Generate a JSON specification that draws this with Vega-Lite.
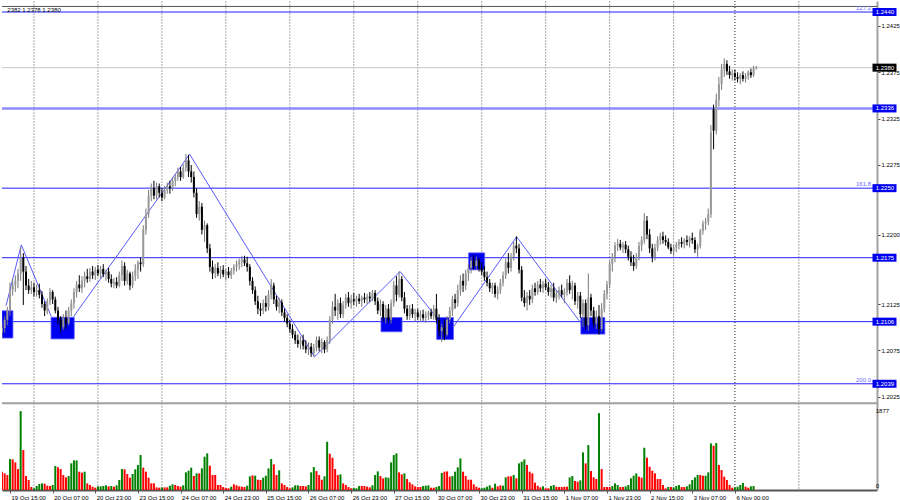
{
"$schema":"https://vega.github.io/schema/vega-lite/v6.json",
"width":900,"height":500,
"autosize":{"type":"fit","contains":"padding"},
"padding":0,
"background":"white",
"config":{"view":{"stroke":null},"text":{"font":"Liberation Sans"}},
"datasets":{
"bars":[
{"i":-3,"o":1.2095,"h":1.2104,"l":1.2088,"c":1.2099,"v":435,"vd":"r"},
{"i":-2,"o":1.2099,"h":1.2112,"l":1.2094,"c":1.2108,"v":396,"vd":"r"},
{"i":-1,"o":1.2108,"h":1.2122,"l":1.2102,"c":1.2118,"v":356,"vd":"r"},
{"i":0,"o":1.2118,"h":1.2148,"l":1.2112,"c":1.2140,"v":737,"vd":"g"},
{"i":1,"o":1.2140,"h":1.2152,"l":1.2134,"c":1.2145,"v":729,"vd":"r"},
{"i":2,"o":1.2145,"h":1.2156,"l":1.2138,"c":1.2150,"v":657,"vd":"r"},
{"i":3,"o":1.2150,"h":1.2163,"l":1.2142,"c":1.2158,"v":499,"vd":"r"},
{"i":4,"o":1.2158,"h":1.2186,"l":1.2150,"c":1.2175,"v":1877,"vd":"g"},
{"i":5,"o":1.2175,"h":1.2180,"l":1.2124,"c":1.2160,"v":950,"vd":"r"},
{"i":6,"o":1.2160,"h":1.2166,"l":1.2140,"c":1.2145,"v":333,"vd":"r"},
{"i":7,"o":1.2145,"h":1.2152,"l":1.2136,"c":1.2140,"v":238,"vd":"r"},
{"i":8,"o":1.2140,"h":1.2150,"l":1.2136,"c":1.2143,"v":71,"vd":"r"},
{"i":9,"o":1.2143,"h":1.2148,"l":1.2133,"c":1.2138,"v":40,"vd":"g"},
{"i":10,"o":1.2138,"h":1.2146,"l":1.2133,"c":1.2140,"v":95,"vd":"g"},
{"i":11,"o":1.2140,"h":1.2147,"l":1.2131,"c":1.2135,"v":143,"vd":"g"},
{"i":12,"o":1.2135,"h":1.2139,"l":1.2121,"c":1.2125,"v":158,"vd":"g"},
{"i":13,"o":1.2125,"h":1.2128,"l":1.2112,"c":1.2118,"v":150,"vd":"r"},
{"i":14,"o":1.2118,"h":1.2131,"l":1.2114,"c":1.2128,"v":103,"vd":"r"},
{"i":15,"o":1.2128,"h":1.2142,"l":1.2124,"c":1.2138,"v":95,"vd":"r"},
{"i":16,"o":1.2138,"h":1.2140,"l":1.2125,"c":1.2130,"v":119,"vd":"g"},
{"i":17,"o":1.2130,"h":1.2133,"l":1.2115,"c":1.2118,"v":570,"vd":"g"},
{"i":18,"o":1.2118,"h":1.2122,"l":1.2103,"c":1.2108,"v":539,"vd":"r"},
{"i":19,"o":1.2108,"h":1.2112,"l":1.2094,"c":1.2100,"v":499,"vd":"r"},
{"i":20,"o":1.2100,"h":1.2114,"l":1.2097,"c":1.2110,"v":356,"vd":"r"},
{"i":21,"o":1.2110,"h":1.2118,"l":1.2098,"c":1.2104,"v":301,"vd":"r"},
{"i":22,"o":1.2104,"h":1.2122,"l":1.2102,"c":1.2118,"v":333,"vd":"g"},
{"i":23,"o":1.2118,"h":1.2130,"l":1.2112,"c":1.2126,"v":634,"vd":"g"},
{"i":24,"o":1.2126,"h":1.2142,"l":1.2120,"c":1.2138,"v":705,"vd":"g"},
{"i":25,"o":1.2138,"h":1.2150,"l":1.2132,"c":1.2146,"v":705,"vd":"g"},
{"i":26,"o":1.2146,"h":1.2156,"l":1.2138,"c":1.2142,"v":436,"vd":"r"},
{"i":27,"o":1.2142,"h":1.2155,"l":1.2137,"c":1.2150,"v":412,"vd":"r"},
{"i":28,"o":1.2150,"h":1.2160,"l":1.2143,"c":1.2155,"v":436,"vd":"g"},
{"i":29,"o":1.2155,"h":1.2163,"l":1.2148,"c":1.2152,"v":158,"vd":"r"},
{"i":30,"o":1.2152,"h":1.2164,"l":1.2149,"c":1.2160,"v":119,"vd":"r"},
{"i":31,"o":1.2160,"h":1.2166,"l":1.2152,"c":1.2156,"v":79,"vd":"r"},
{"i":32,"o":1.2156,"h":1.2165,"l":1.2151,"c":1.2162,"v":55,"vd":"r"},
{"i":33,"o":1.2162,"h":1.2167,"l":1.2155,"c":1.2158,"v":87,"vd":"g"},
{"i":34,"o":1.2158,"h":1.2166,"l":1.2153,"c":1.2163,"v":87,"vd":"g"},
{"i":35,"o":1.2163,"h":1.2168,"l":1.2154,"c":1.2157,"v":95,"vd":"g"},
{"i":36,"o":1.2157,"h":1.2162,"l":1.2150,"c":1.2160,"v":111,"vd":"g"},
{"i":37,"o":1.2160,"h":1.2164,"l":1.2148,"c":1.2152,"v":87,"vd":"r"},
{"i":38,"o":1.2152,"h":1.2157,"l":1.2143,"c":1.2147,"v":95,"vd":"g"},
{"i":39,"o":1.2147,"h":1.2153,"l":1.2142,"c":1.2149,"v":79,"vd":"r"},
{"i":40,"o":1.2149,"h":1.2154,"l":1.2142,"c":1.2145,"v":111,"vd":"g"},
{"i":41,"o":1.2145,"h":1.2160,"l":1.2143,"c":1.2156,"v":238,"vd":"g"},
{"i":42,"o":1.2156,"h":1.2172,"l":1.2150,"c":1.2166,"v":499,"vd":"g"},
{"i":43,"o":1.2166,"h":1.2170,"l":1.2145,"c":1.2150,"v":491,"vd":"r"},
{"i":44,"o":1.2150,"h":1.2162,"l":1.2146,"c":1.2158,"v":380,"vd":"r"},
{"i":45,"o":1.2158,"h":1.2160,"l":1.2140,"c":1.2145,"v":293,"vd":"r"},
{"i":46,"o":1.2145,"h":1.2160,"l":1.2142,"c":1.2156,"v":380,"vd":"g"},
{"i":47,"o":1.2156,"h":1.2168,"l":1.2150,"c":1.2162,"v":491,"vd":"g"},
{"i":48,"o":1.2162,"h":1.2172,"l":1.2152,"c":1.2170,"v":594,"vd":"g"},
{"i":49,"o":1.2170,"h":1.2175,"l":1.2160,"c":1.2168,"v":832,"vd":"g"},
{"i":50,"o":1.2168,"h":1.2210,"l":1.2165,"c":1.2205,"v":531,"vd":"r"},
{"i":51,"o":1.2205,"h":1.2228,"l":1.2200,"c":1.2222,"v":436,"vd":"r"},
{"i":52,"o":1.2222,"h":1.2248,"l":1.2218,"c":1.2242,"v":293,"vd":"r"},
{"i":53,"o":1.2242,"h":1.2255,"l":1.2236,"c":1.2250,"v":158,"vd":"r"},
{"i":54,"o":1.2250,"h":1.2258,"l":1.2238,"c":1.2242,"v":158,"vd":"r"},
{"i":55,"o":1.2242,"h":1.2256,"l":1.2238,"c":1.2252,"v":63,"vd":"r"},
{"i":56,"o":1.2252,"h":1.2255,"l":1.2240,"c":1.2245,"v":55,"vd":"r"},
{"i":57,"o":1.2245,"h":1.2250,"l":1.2236,"c":1.2240,"v":63,"vd":"g"},
{"i":58,"o":1.2240,"h":1.2252,"l":1.2238,"c":1.2248,"v":63,"vd":"r"},
{"i":59,"o":1.2248,"h":1.2256,"l":1.2244,"c":1.2252,"v":63,"vd":"r"},
{"i":60,"o":1.2252,"h":1.2258,"l":1.2244,"c":1.2250,"v":103,"vd":"g"},
{"i":61,"o":1.2250,"h":1.2262,"l":1.2247,"c":1.2258,"v":135,"vd":"g"},
{"i":62,"o":1.2258,"h":1.2265,"l":1.2252,"c":1.2262,"v":119,"vd":"r"},
{"i":63,"o":1.2262,"h":1.2272,"l":1.2258,"c":1.2268,"v":95,"vd":"r"},
{"i":64,"o":1.2268,"h":1.2273,"l":1.2258,"c":1.2262,"v":79,"vd":"r"},
{"i":65,"o":1.2262,"h":1.2276,"l":1.2260,"c":1.2272,"v":111,"vd":"g"},
{"i":66,"o":1.2272,"h":1.2287,"l":1.2268,"c":1.2280,"v":420,"vd":"g"},
{"i":67,"o":1.2280,"h":1.2286,"l":1.2262,"c":1.2268,"v":459,"vd":"g"},
{"i":68,"o":1.2268,"h":1.2275,"l":1.2256,"c":1.2262,"v":531,"vd":"g"},
{"i":69,"o":1.2262,"h":1.2268,"l":1.2240,"c":1.2245,"v":333,"vd":"r"},
{"i":70,"o":1.2245,"h":1.2250,"l":1.2218,"c":1.2222,"v":396,"vd":"g"},
{"i":71,"o":1.2222,"h":1.2236,"l":1.2215,"c":1.2230,"v":396,"vd":"r"},
{"i":72,"o":1.2230,"h":1.2234,"l":1.2200,"c":1.2205,"v":515,"vd":"g"},
{"i":73,"o":1.2205,"h":1.2215,"l":1.2192,"c":1.2210,"v":792,"vd":"g"},
{"i":74,"o":1.2210,"h":1.2212,"l":1.2180,"c":1.2185,"v":871,"vd":"g"},
{"i":75,"o":1.2185,"h":1.2190,"l":1.2160,"c":1.2165,"v":578,"vd":"r"},
{"i":76,"o":1.2165,"h":1.2172,"l":1.2152,"c":1.2158,"v":356,"vd":"r"},
{"i":77,"o":1.2158,"h":1.2168,"l":1.2153,"c":1.2164,"v":356,"vd":"r"},
{"i":78,"o":1.2164,"h":1.2170,"l":1.2155,"c":1.2158,"v":119,"vd":"r"},
{"i":79,"o":1.2158,"h":1.2166,"l":1.2152,"c":1.2162,"v":119,"vd":"r"},
{"i":80,"o":1.2162,"h":1.2167,"l":1.2154,"c":1.2157,"v":71,"vd":"r"},
{"i":81,"o":1.2157,"h":1.2163,"l":1.2151,"c":1.2160,"v":48,"vd":"r"},
{"i":82,"o":1.2160,"h":1.2165,"l":1.2153,"c":1.2156,"v":40,"vd":"r"},
{"i":83,"o":1.2156,"h":1.2164,"l":1.2152,"c":1.2161,"v":79,"vd":"g"},
{"i":84,"o":1.2161,"h":1.2168,"l":1.2157,"c":1.2165,"v":135,"vd":"r"},
{"i":85,"o":1.2165,"h":1.2172,"l":1.2160,"c":1.2168,"v":111,"vd":"r"},
{"i":86,"o":1.2168,"h":1.2174,"l":1.2162,"c":1.2171,"v":87,"vd":"r"},
{"i":87,"o":1.2171,"h":1.2177,"l":1.2165,"c":1.2173,"v":79,"vd":"r"},
{"i":88,"o":1.2173,"h":1.2177,"l":1.2166,"c":1.2169,"v":71,"vd":"r"},
{"i":89,"o":1.2169,"h":1.2176,"l":1.2160,"c":1.2165,"v":103,"vd":"g"},
{"i":90,"o":1.2165,"h":1.2168,"l":1.2145,"c":1.2150,"v":325,"vd":"g"},
{"i":91,"o":1.2150,"h":1.2154,"l":1.2136,"c":1.2140,"v":348,"vd":"r"},
{"i":92,"o":1.2140,"h":1.2144,"l":1.2124,"c":1.2128,"v":340,"vd":"g"},
{"i":93,"o":1.2128,"h":1.2134,"l":1.2114,"c":1.2120,"v":245,"vd":"r"},
{"i":94,"o":1.2120,"h":1.2126,"l":1.2112,"c":1.2118,"v":238,"vd":"r"},
{"i":95,"o":1.2118,"h":1.2130,"l":1.2114,"c":1.2126,"v":293,"vd":"g"},
{"i":96,"o":1.2126,"h":1.2134,"l":1.2117,"c":1.2122,"v":340,"vd":"g"},
{"i":97,"o":1.2122,"h":1.2140,"l":1.2118,"c":1.2135,"v":515,"vd":"g"},
{"i":98,"o":1.2135,"h":1.2152,"l":1.2130,"c":1.2145,"v":737,"vd":"g"},
{"i":99,"o":1.2145,"h":1.2148,"l":1.2125,"c":1.2130,"v":610,"vd":"r"},
{"i":100,"o":1.2130,"h":1.2134,"l":1.2118,"c":1.2122,"v":356,"vd":"r"},
{"i":101,"o":1.2122,"h":1.2132,"l":1.2115,"c":1.2127,"v":467,"vd":"g"},
{"i":102,"o":1.2127,"h":1.2130,"l":1.2112,"c":1.2116,"v":158,"vd":"r"},
{"i":103,"o":1.2116,"h":1.2120,"l":1.2106,"c":1.2110,"v":119,"vd":"r"},
{"i":104,"o":1.2110,"h":1.2114,"l":1.2100,"c":1.2104,"v":71,"vd":"r"},
{"i":105,"o":1.2104,"h":1.2108,"l":1.2094,"c":1.2098,"v":40,"vd":"r"},
{"i":106,"o":1.2098,"h":1.2103,"l":1.2088,"c":1.2092,"v":63,"vd":"g"},
{"i":107,"o":1.2092,"h":1.2096,"l":1.2082,"c":1.2086,"v":111,"vd":"g"},
{"i":108,"o":1.2086,"h":1.2092,"l":1.2078,"c":1.2082,"v":111,"vd":"g"},
{"i":109,"o":1.2082,"h":1.2090,"l":1.2076,"c":1.2086,"v":95,"vd":"r"},
{"i":110,"o":1.2086,"h":1.2092,"l":1.2076,"c":1.2080,"v":95,"vd":"r"},
{"i":111,"o":1.2080,"h":1.2086,"l":1.2072,"c":1.2076,"v":87,"vd":"r"},
{"i":112,"o":1.2076,"h":1.2084,"l":1.2070,"c":1.2079,"v":119,"vd":"g"},
{"i":113,"o":1.2079,"h":1.2083,"l":1.2068,"c":1.2072,"v":420,"vd":"g"},
{"i":114,"o":1.2072,"h":1.2082,"l":1.2068,"c":1.2078,"v":546,"vd":"g"},
{"i":115,"o":1.2078,"h":1.2090,"l":1.2074,"c":1.2086,"v":451,"vd":"r"},
{"i":116,"o":1.2086,"h":1.2090,"l":1.2074,"c":1.2078,"v":356,"vd":"r"},
{"i":117,"o":1.2078,"h":1.2088,"l":1.2072,"c":1.2084,"v":245,"vd":"r"},
{"i":118,"o":1.2084,"h":1.2086,"l":1.2072,"c":1.2076,"v":325,"vd":"g"},
{"i":119,"o":1.2076,"h":1.2090,"l":1.2073,"c":1.2086,"v":1148,"vd":"g"},
{"i":120,"o":1.2086,"h":1.2112,"l":1.2082,"c":1.2108,"v":863,"vd":"r"},
{"i":121,"o":1.2108,"h":1.2128,"l":1.2104,"c":1.2122,"v":768,"vd":"r"},
{"i":122,"o":1.2122,"h":1.2136,"l":1.2112,"c":1.2118,"v":499,"vd":"r"},
{"i":123,"o":1.2118,"h":1.2130,"l":1.2108,"c":1.2126,"v":356,"vd":"r"},
{"i":124,"o":1.2126,"h":1.2132,"l":1.2110,"c":1.2114,"v":372,"vd":"g"},
{"i":125,"o":1.2114,"h":1.2128,"l":1.2110,"c":1.2124,"v":158,"vd":"r"},
{"i":126,"o":1.2124,"h":1.2136,"l":1.2120,"c":1.2132,"v":119,"vd":"r"},
{"i":127,"o":1.2132,"h":1.2138,"l":1.2122,"c":1.2126,"v":71,"vd":"r"},
{"i":128,"o":1.2126,"h":1.2135,"l":1.2120,"c":1.2130,"v":40,"vd":"r"},
{"i":129,"o":1.2130,"h":1.2137,"l":1.2124,"c":1.2128,"v":48,"vd":"g"},
{"i":130,"o":1.2128,"h":1.2134,"l":1.2122,"c":1.2131,"v":40,"vd":"g"},
{"i":131,"o":1.2131,"h":1.2136,"l":1.2125,"c":1.2128,"v":95,"vd":"g"},
{"i":132,"o":1.2128,"h":1.2134,"l":1.2122,"c":1.2132,"v":95,"vd":"r"},
{"i":133,"o":1.2132,"h":1.2137,"l":1.2126,"c":1.2130,"v":95,"vd":"r"},
{"i":134,"o":1.2130,"h":1.2136,"l":1.2125,"c":1.2133,"v":79,"vd":"r"},
{"i":135,"o":1.2133,"h":1.2138,"l":1.2127,"c":1.2131,"v":63,"vd":"r"},
{"i":136,"o":1.2131,"h":1.2140,"l":1.2128,"c":1.2137,"v":111,"vd":"g"},
{"i":137,"o":1.2137,"h":1.2140,"l":1.2124,"c":1.2128,"v":356,"vd":"g"},
{"i":138,"o":1.2128,"h":1.2132,"l":1.2114,"c":1.2118,"v":443,"vd":"g"},
{"i":139,"o":1.2118,"h":1.2130,"l":1.2112,"c":1.2125,"v":333,"vd":"r"},
{"i":140,"o":1.2125,"h":1.2128,"l":1.2106,"c":1.2110,"v":277,"vd":"r"},
{"i":141,"o":1.2110,"h":1.2124,"l":1.2104,"c":1.2120,"v":301,"vd":"g"},
{"i":142,"o":1.2120,"h":1.2125,"l":1.2105,"c":1.2108,"v":293,"vd":"g"},
{"i":143,"o":1.2108,"h":1.2130,"l":1.2104,"c":1.2126,"v":657,"vd":"g"},
{"i":144,"o":1.2126,"h":1.2150,"l":1.2122,"c":1.2145,"v":832,"vd":"g"},
{"i":145,"o":1.2145,"h":1.2155,"l":1.2128,"c":1.2135,"v":871,"vd":"g"},
{"i":146,"o":1.2135,"h":1.2160,"l":1.2132,"c":1.2152,"v":420,"vd":"r"},
{"i":147,"o":1.2152,"h":1.2155,"l":1.2128,"c":1.2132,"v":372,"vd":"r"},
{"i":148,"o":1.2132,"h":1.2138,"l":1.2115,"c":1.2120,"v":396,"vd":"g"},
{"i":149,"o":1.2120,"h":1.2124,"l":1.2108,"c":1.2112,"v":261,"vd":"r"},
{"i":150,"o":1.2112,"h":1.2124,"l":1.2108,"c":1.2120,"v":182,"vd":"r"},
{"i":151,"o":1.2120,"h":1.2125,"l":1.2110,"c":1.2114,"v":135,"vd":"r"},
{"i":152,"o":1.2114,"h":1.2120,"l":1.2106,"c":1.2116,"v":87,"vd":"r"},
{"i":153,"o":1.2116,"h":1.2120,"l":1.2108,"c":1.2111,"v":71,"vd":"r"},
{"i":154,"o":1.2111,"h":1.2118,"l":1.2106,"c":1.2114,"v":71,"vd":"r"},
{"i":155,"o":1.2114,"h":1.2119,"l":1.2107,"c":1.2110,"v":95,"vd":"g"},
{"i":156,"o":1.2110,"h":1.2117,"l":1.2105,"c":1.2113,"v":103,"vd":"g"},
{"i":157,"o":1.2113,"h":1.2118,"l":1.2108,"c":1.2116,"v":111,"vd":"g"},
{"i":158,"o":1.2116,"h":1.2120,"l":1.2109,"c":1.2112,"v":55,"vd":"r"},
{"i":159,"o":1.2112,"h":1.2124,"l":1.2108,"c":1.2120,"v":55,"vd":"r"},
{"i":160,"o":1.2120,"h":1.2136,"l":1.2104,"c":1.2108,"v":71,"vd":"g"},
{"i":161,"o":1.2108,"h":1.2114,"l":1.2090,"c":1.2096,"v":95,"vd":"g"},
{"i":162,"o":1.2096,"h":1.2104,"l":1.2084,"c":1.2100,"v":404,"vd":"g"},
{"i":163,"o":1.2100,"h":1.2108,"l":1.2086,"c":1.2092,"v":436,"vd":"r"},
{"i":164,"o":1.2092,"h":1.2112,"l":1.2090,"c":1.2108,"v":443,"vd":"r"},
{"i":165,"o":1.2108,"h":1.2122,"l":1.2104,"c":1.2118,"v":317,"vd":"r"},
{"i":166,"o":1.2118,"h":1.2134,"l":1.2112,"c":1.2130,"v":333,"vd":"g"},
{"i":167,"o":1.2130,"h":1.2136,"l":1.2120,"c":1.2126,"v":436,"vd":"g"},
{"i":168,"o":1.2126,"h":1.2146,"l":1.2122,"c":1.2140,"v":539,"vd":"g"},
{"i":169,"o":1.2140,"h":1.2156,"l":1.2134,"c":1.2150,"v":752,"vd":"g"},
{"i":170,"o":1.2150,"h":1.2158,"l":1.2138,"c":1.2145,"v":436,"vd":"r"},
{"i":171,"o":1.2145,"h":1.2162,"l":1.2140,"c":1.2158,"v":333,"vd":"r"},
{"i":172,"o":1.2158,"h":1.2168,"l":1.2150,"c":1.2164,"v":245,"vd":"r"},
{"i":173,"o":1.2164,"h":1.2176,"l":1.2158,"c":1.2172,"v":245,"vd":"r"},
{"i":174,"o":1.2172,"h":1.2178,"l":1.2162,"c":1.2166,"v":135,"vd":"r"},
{"i":175,"o":1.2166,"h":1.2176,"l":1.2162,"c":1.2172,"v":79,"vd":"r"},
{"i":176,"o":1.2172,"h":1.2175,"l":1.2160,"c":1.2164,"v":55,"vd":"r"},
{"i":177,"o":1.2164,"h":1.2170,"l":1.2156,"c":1.2160,"v":40,"vd":"g"},
{"i":178,"o":1.2160,"h":1.2166,"l":1.2150,"c":1.2154,"v":55,"vd":"g"},
{"i":179,"o":1.2154,"h":1.2160,"l":1.2144,"c":1.2148,"v":79,"vd":"g"},
{"i":180,"o":1.2148,"h":1.2152,"l":1.2138,"c":1.2142,"v":111,"vd":"g"},
{"i":181,"o":1.2142,"h":1.2148,"l":1.2136,"c":1.2145,"v":55,"vd":"r"},
{"i":182,"o":1.2145,"h":1.2148,"l":1.2132,"c":1.2136,"v":150,"vd":"g"},
{"i":183,"o":1.2136,"h":1.2144,"l":1.2130,"c":1.2140,"v":87,"vd":"r"},
{"i":184,"o":1.2140,"h":1.2152,"l":1.2136,"c":1.2148,"v":111,"vd":"r"},
{"i":185,"o":1.2148,"h":1.2160,"l":1.2144,"c":1.2156,"v":103,"vd":"g"},
{"i":186,"o":1.2156,"h":1.2174,"l":1.2152,"c":1.2170,"v":301,"vd":"g"},
{"i":187,"o":1.2170,"h":1.2180,"l":1.2158,"c":1.2164,"v":325,"vd":"r"},
{"i":188,"o":1.2164,"h":1.2180,"l":1.2160,"c":1.2176,"v":325,"vd":"r"},
{"i":189,"o":1.2176,"h":1.2192,"l":1.2172,"c":1.2188,"v":356,"vd":"g"},
{"i":190,"o":1.2188,"h":1.2198,"l":1.2180,"c":1.2185,"v":277,"vd":"r"},
{"i":191,"o":1.2185,"h":1.2190,"l":1.2158,"c":1.2162,"v":634,"vd":"g"},
{"i":192,"o":1.2162,"h":1.2166,"l":1.2128,"c":1.2132,"v":673,"vd":"g"},
{"i":193,"o":1.2132,"h":1.2140,"l":1.2122,"c":1.2126,"v":729,"vd":"g"},
{"i":194,"o":1.2126,"h":1.2138,"l":1.2118,"c":1.2134,"v":594,"vd":"r"},
{"i":195,"o":1.2134,"h":1.2140,"l":1.2124,"c":1.2130,"v":436,"vd":"r"},
{"i":196,"o":1.2130,"h":1.2146,"l":1.2126,"c":1.2142,"v":396,"vd":"r"},
{"i":197,"o":1.2142,"h":1.2148,"l":1.2134,"c":1.2138,"v":174,"vd":"r"},
{"i":198,"o":1.2138,"h":1.2150,"l":1.2135,"c":1.2146,"v":103,"vd":"r"},
{"i":199,"o":1.2146,"h":1.2152,"l":1.2138,"c":1.2142,"v":63,"vd":"r"},
{"i":200,"o":1.2142,"h":1.2150,"l":1.2137,"c":1.2147,"v":87,"vd":"g"},
{"i":201,"o":1.2147,"h":1.2152,"l":1.2140,"c":1.2143,"v":40,"vd":"r"},
{"i":202,"o":1.2143,"h":1.2149,"l":1.2134,"c":1.2138,"v":40,"vd":"r"},
{"i":203,"o":1.2138,"h":1.2146,"l":1.2132,"c":1.2142,"v":95,"vd":"g"},
{"i":204,"o":1.2142,"h":1.2148,"l":1.2128,"c":1.2132,"v":119,"vd":"g"},
{"i":205,"o":1.2132,"h":1.2140,"l":1.2126,"c":1.2136,"v":79,"vd":"r"},
{"i":206,"o":1.2136,"h":1.2144,"l":1.2130,"c":1.2140,"v":71,"vd":"r"},
{"i":207,"o":1.2140,"h":1.2146,"l":1.2132,"c":1.2135,"v":71,"vd":"r"},
{"i":208,"o":1.2135,"h":1.2142,"l":1.2126,"c":1.2138,"v":79,"vd":"r"},
{"i":209,"o":1.2138,"h":1.2152,"l":1.2134,"c":1.2148,"v":79,"vd":"r"},
{"i":210,"o":1.2148,"h":1.2156,"l":1.2136,"c":1.2140,"v":301,"vd":"g"},
{"i":211,"o":1.2140,"h":1.2150,"l":1.2130,"c":1.2145,"v":333,"vd":"g"},
{"i":212,"o":1.2145,"h":1.2148,"l":1.2124,"c":1.2128,"v":214,"vd":"r"},
{"i":213,"o":1.2128,"h":1.2138,"l":1.2120,"c":1.2134,"v":198,"vd":"r"},
{"i":214,"o":1.2134,"h":1.2138,"l":1.2110,"c":1.2114,"v":230,"vd":"g"},
{"i":215,"o":1.2114,"h":1.2130,"l":1.2100,"c":1.2126,"v":895,"vd":"g"},
{"i":216,"o":1.2126,"h":1.2130,"l":1.2098,"c":1.2102,"v":634,"vd":"r"},
{"i":217,"o":1.2102,"h":1.2158,"l":1.2096,"c":1.2132,"v":1069,"vd":"g"},
{"i":218,"o":1.2132,"h":1.2136,"l":1.2112,"c":1.2118,"v":451,"vd":"r"},
{"i":219,"o":1.2118,"h":1.2122,"l":1.2100,"c":1.2104,"v":301,"vd":"r"},
{"i":220,"o":1.2104,"h":1.2118,"l":1.2098,"c":1.2112,"v":261,"vd":"r"},
{"i":221,"o":1.2112,"h":1.2124,"l":1.2092,"c":1.2098,"v":1830,"vd":"g"},
{"i":222,"o":1.2098,"h":1.2126,"l":1.2095,"c":1.2120,"v":499,"vd":"r"},
{"i":223,"o":1.2120,"h":1.2140,"l":1.2116,"c":1.2136,"v":71,"vd":"r"},
{"i":224,"o":1.2136,"h":1.2150,"l":1.2130,"c":1.2146,"v":71,"vd":"r"},
{"i":225,"o":1.2146,"h":1.2172,"l":1.2142,"c":1.2168,"v":71,"vd":"r"},
{"i":226,"o":1.2168,"h":1.2180,"l":1.2160,"c":1.2176,"v":95,"vd":"g"},
{"i":227,"o":1.2176,"h":1.2192,"l":1.2170,"c":1.2188,"v":158,"vd":"g"},
{"i":228,"o":1.2188,"h":1.2195,"l":1.2182,"c":1.2190,"v":119,"vd":"g"},
{"i":229,"o":1.2190,"h":1.2194,"l":1.2183,"c":1.2186,"v":71,"vd":"r"},
{"i":230,"o":1.2186,"h":1.2192,"l":1.2180,"c":1.2189,"v":71,"vd":"r"},
{"i":231,"o":1.2189,"h":1.2193,"l":1.2180,"c":1.2184,"v":87,"vd":"g"},
{"i":232,"o":1.2184,"h":1.2188,"l":1.2172,"c":1.2176,"v":119,"vd":"g"},
{"i":233,"o":1.2176,"h":1.2182,"l":1.2166,"c":1.2170,"v":277,"vd":"g"},
{"i":234,"o":1.2170,"h":1.2178,"l":1.2161,"c":1.2166,"v":340,"vd":"g"},
{"i":235,"o":1.2166,"h":1.2180,"l":1.2163,"c":1.2176,"v":396,"vd":"g"},
{"i":236,"o":1.2176,"h":1.2192,"l":1.2172,"c":1.2188,"v":317,"vd":"r"},
{"i":237,"o":1.2188,"h":1.2198,"l":1.2182,"c":1.2194,"v":293,"vd":"r"},
{"i":238,"o":1.2194,"h":1.2223,"l":1.2190,"c":1.2215,"v":1006,"vd":"g"},
{"i":239,"o":1.2215,"h":1.2220,"l":1.2195,"c":1.2200,"v":768,"vd":"r"},
{"i":240,"o":1.2200,"h":1.2206,"l":1.2180,"c":1.2185,"v":554,"vd":"r"},
{"i":241,"o":1.2185,"h":1.2190,"l":1.2170,"c":1.2176,"v":459,"vd":"r"},
{"i":242,"o":1.2176,"h":1.2190,"l":1.2172,"c":1.2186,"v":396,"vd":"r"},
{"i":243,"o":1.2186,"h":1.2198,"l":1.2182,"c":1.2194,"v":261,"vd":"r"},
{"i":244,"o":1.2194,"h":1.2202,"l":1.2189,"c":1.2198,"v":261,"vd":"r"},
{"i":245,"o":1.2198,"h":1.2203,"l":1.2190,"c":1.2194,"v":119,"vd":"r"},
{"i":246,"o":1.2194,"h":1.2199,"l":1.2188,"c":1.2192,"v":40,"vd":"r"},
{"i":247,"o":1.2192,"h":1.2196,"l":1.2184,"c":1.2186,"v":71,"vd":"g"},
{"i":248,"o":1.2186,"h":1.2190,"l":1.2179,"c":1.2182,"v":71,"vd":"r"},
{"i":249,"o":1.2182,"h":1.2189,"l":1.2177,"c":1.2186,"v":63,"vd":"g"},
{"i":250,"o":1.2186,"h":1.2192,"l":1.2181,"c":1.2189,"v":95,"vd":"g"},
{"i":251,"o":1.2189,"h":1.2195,"l":1.2184,"c":1.2192,"v":119,"vd":"g"},
{"i":252,"o":1.2192,"h":1.2197,"l":1.2186,"c":1.2190,"v":71,"vd":"r"},
{"i":253,"o":1.2190,"h":1.2196,"l":1.2185,"c":1.2194,"v":71,"vd":"r"},
{"i":254,"o":1.2194,"h":1.2199,"l":1.2188,"c":1.2192,"v":87,"vd":"g"},
{"i":255,"o":1.2192,"h":1.2198,"l":1.2186,"c":1.2196,"v":135,"vd":"g"},
{"i":256,"o":1.2196,"h":1.2202,"l":1.2190,"c":1.2194,"v":238,"vd":"g"},
{"i":257,"o":1.2194,"h":1.2197,"l":1.2180,"c":1.2184,"v":300,"vd":"g"},
{"i":258,"o":1.2184,"h":1.2190,"l":1.2176,"c":1.2188,"v":356,"vd":"g"},
{"i":259,"o":1.2188,"h":1.2206,"l":1.2185,"c":1.2204,"v":356,"vd":"r"},
{"i":260,"o":1.2204,"h":1.2215,"l":1.2200,"c":1.2212,"v":340,"vd":"r"},
{"i":261,"o":1.2212,"h":1.2218,"l":1.2205,"c":1.2214,"v":340,"vd":"g"},
{"i":262,"o":1.2214,"h":1.2228,"l":1.2210,"c":1.2222,"v":420,"vd":"g"},
{"i":263,"o":1.2222,"h":1.2318,"l":1.2218,"c":1.2310,"v":1109,"vd":"g"},
{"i":264,"o":1.2335,"h":1.2340,"l":1.2292,"c":1.2312,"v":1053,"vd":"r"},
{"i":265,"o":1.2312,"h":1.2352,"l":1.2308,"c":1.2345,"v":1117,"vd":"g"},
{"i":266,"o":1.2345,"h":1.2370,"l":1.2338,"c":1.2362,"v":594,"vd":"r"},
{"i":267,"o":1.2362,"h":1.2384,"l":1.2356,"c":1.2378,"v":475,"vd":"r"},
{"i":268,"o":1.2378,"h":1.2390,"l":1.2370,"c":1.2384,"v":317,"vd":"r"},
{"i":269,"o":1.2384,"h":1.2388,"l":1.2372,"c":1.2376,"v":238,"vd":"r"},
{"i":270,"o":1.2376,"h":1.2382,"l":1.2368,"c":1.2372,"v":119,"vd":"r"},
{"i":271,"o":1.2372,"h":1.2378,"l":1.2366,"c":1.2374,"v":55,"vd":"r"},
{"i":272,"o":1.2374,"h":1.2378,"l":1.2366,"c":1.2370,"v":63,"vd":"g"},
{"i":273,"o":1.2370,"h":1.2375,"l":1.2364,"c":1.2368,"v":79,"vd":"g"},
{"i":274,"o":1.2368,"h":1.2374,"l":1.2362,"c":1.2372,"v":119,"vd":"g"},
{"i":275,"o":1.2372,"h":1.2376,"l":1.2365,"c":1.2368,"v":166,"vd":"g"},
{"i":276,"o":1.2368,"h":1.2374,"l":1.2364,"c":1.2371,"v":79,"vd":"r"},
{"i":277,"o":1.2371,"h":1.2377,"l":1.2367,"c":1.2375,"v":55,"vd":"r"},
{"i":278,"o":1.2375,"h":1.2379,"l":1.2369,"c":1.2372,"v":87,"vd":"g"},
{"i":279,"o":1.2372,"h":1.2382,"l":1.2370,"c":1.2379,"v":95,"vd":"g"},
{"i":280,"o":1.2379,"h":1.2382,"l":1.2378,"c":1.2380,"v":24,"vd":"p"}
],
"zig":[
{"a":-1.5,"pa":1.21231,"b":4.24,"pb":1.21888},
{"a":4.24,"pa":1.21888,"b":15.49,"pb":1.21116},
{"a":23.89,"pa":1.21116,"b":67.39,"pb":1.22866},
{"a":67.39,"pa":1.22866,"b":114.26,"pb":1.20681},
{"a":114.26,"pa":1.20681,"b":146.36,"pb":1.21601},
{"a":146.36,"pa":1.21601,"b":160.1,"pb":1.21102},
{"a":166.4,"pa":1.21005,"b":190.1,"pb":1.21975},
{"a":190.1,"pa":1.21975,"b":214.5,"pb":1.21034}
],
"boxes":[
{"x1":-3,"x2":1.1,"y1":1.21177,"y2":1.20883},
{"x1":15.4,"x2":24.1,"y1":1.21107,"y2":1.20874},
{"x1":139.2,"x2":147.1,"y1":1.21105,"y2":1.20951},
{"x1":160.1,"x2":166.4,"y1":1.21105,"y2":1.20868},
{"x1":172.1,"x2":178.1,"y1":1.21802,"y2":1.21619},
{"x1":214.2,"x2":223.2,"y1":1.21105,"y2":1.20926}
],
"tags":[
{"p":1.2440,"t":"1.2440"},{"p":1.2380,"t":"1.2380"},{"p":1.2336,"t":"1.2336"},
{"p":1.2250,"t":"1.2250"},{"p":1.2175,"t":"1.2175"},{"p":1.2106,"t":"1.2106"},{"p":1.2039,"t":"1.2039"}
]
},
"layer":[
{"layer":[
{"data":{"values":[{"g":9},{"g":33},{"g":57},{"g":81},{"g":105},{"g":129},{"g":153},{"g":177},{"g":201},{"g":225},{"g":249},{"g":296}]},
 "mark":{"type":"rule","color":"#a8a8a8","strokeDash":[2,1],"strokeWidth":1},
 "encoding":{"x":{"field":"g","type":"quantitative","scale":{"domain":[-1.125,323.44],"nice":false,"zero":false},
  "axis":{"title":null,"values":[0,16,32,48,64,80,96,112,128,144,160,176,192,208,224,240,256,272],
   "labelExpr":"['19 Oct 15:00','20 Oct 07:00','20 Oct 23:00','23 Oct 15:00','24 Oct 07:00','24 Oct 23:00','25 Oct 15:00','26 Oct 07:00','26 Oct 23:00','27 Oct 15:00','30 Oct 07:00','30 Oct 23:00','31 Oct 15:00','1 Nov 07:00','1 Nov 23:00','2 Nov 15:00','3 Nov 07:00','6 Nov 00:00'][round(datum.value/16)]",
   "grid":false,"domainColor":"#555","domainWidth":2,"tickColor":"#555","tickSize":3,"labelFont":"Liberation Sans","labelFontSize":6,"labelColor":"#000","labelAlign":"left","labelBaseline":"top","labelPadding":1,"labelOffset":1,"labelOverlap":false,"labelFlush":false,"labelBound":false}}}},
{"data":{"values":[{"g":272}]},
 "mark":{"type":"rule","color":"#222","strokeDash":[1,2],"strokeWidth":1},
 "encoding":{"x":{"field":"g","type":"quantitative","scale":{"domain":[-1.125,323.44],"nice":false,"zero":false},"axis":{"title":null,"grid":false}}}},
{"data":{"values":[{"p":1.2446}]},
 "mark":{"type":"rule","color":"#555","strokeWidth":1},
 "encoding":{"y":{"field":"p","type":"quantitative","scale":{"domain":[1.19298,1.24465],"nice":false,"zero":false},"axis":{"title":null,"grid":false}}}},
{"data":{"values":[{"p":1.2018}]},
 "mark":{"type":"rule","color":"#a0a0a0","strokeWidth":2},
 "encoding":{"y":{"field":"p","type":"quantitative","scale":{"domain":[1.19298,1.24465],"nice":false,"zero":false},"axis":{"title":null,"grid":false}}}},
{"data":{"values":[{"p":1.2380}]},
 "mark":{"type":"rule","color":"#c8c8c8","strokeWidth":1},
 "encoding":{"y":{"field":"p","type":"quantitative","scale":{"domain":[1.19298,1.24465],"nice":false,"zero":false},"axis":{"title":null,"grid":false}}}},
{"data":{"values":[{"p":1.2336}]},
 "mark":{"type":"rule","color":"#8c8cff","strokeWidth":2.5},
 "encoding":{"y":{"field":"p","type":"quantitative","scale":{"domain":[1.19298,1.24465],"nice":false,"zero":false},"axis":{"title":null,"grid":false}}}},
{"data":{"values":[{"p":1.2440},{"p":1.2250},{"p":1.2175},{"p":1.2106},{"p":1.2039}]},
 "mark":{"type":"rule","color":"#2020ff","strokeWidth":1},
 "encoding":{"y":{"field":"p","type":"quantitative","scale":{"domain":[1.19298,1.24465],"nice":false,"zero":false},
  "axis":{"orient":"right","title":null,"values":[1.2025,1.205,1.2075,1.21,1.2125,1.215,1.22,1.2225,1.2275,1.23,1.2325,1.235,1.2375,1.24,1.2425],
   "format":".4f","grid":false,"domainColor":"#a0a0a0","domainWidth":2,"tickColor":"#444","tickSize":3,"labelFont":"Liberation Sans","labelFontSize":6,"labelColor":"#000","labelPadding":1,"labelOverlap":false,"labelFlush":false,"labelBound":false}}}},
{"data":{"name":"zig"},
 "mark":{"type":"rule","color":"#5a5aff","strokeWidth":1,"clip":true},
 "encoding":{"x":{"field":"a","type":"quantitative","scale":{"domain":[-1.125,323.44],"nice":false,"zero":false},"axis":{"title":null,"grid":false}},
  "x2":{"field":"b"},
  "y":{"field":"pa","type":"quantitative","scale":{"domain":[1.19298,1.24465],"nice":false,"zero":false},"axis":{"title":null,"grid":false}},
  "y2":{"field":"pb"}}},
{"data":{"name":"boxes"},
 "mark":{"type":"rect","color":"#0000f0","stroke":"#5c5cff","strokeWidth":0.8,"clip":true},
 "encoding":{"x":{"field":"x1","type":"quantitative","scale":{"domain":[-1.125,323.44],"nice":false,"zero":false},"axis":{"title":null,"grid":false}},
  "x2":{"field":"x2"},
  "y":{"field":"y1","type":"quantitative","scale":{"domain":[1.19298,1.24465],"nice":false,"zero":false},"axis":{"title":null,"grid":false}},
  "y2":{"field":"y2"}}},
{"data":{"name":"bars"},
 "mark":{"type":"rule","strokeWidth":1,"clip":true},
 "encoding":{"x":{"field":"i","type":"quantitative","scale":{"domain":[-1.125,323.44],"nice":false,"zero":false},"axis":{"title":null,"grid":false}},
  "y":{"field":"l","type":"quantitative","scale":{"domain":[1.19298,1.24465],"nice":false,"zero":false},"axis":{"title":null,"grid":false}},
  "y2":{"field":"h"},
  "color":{"condition":{"test":"datum.c >= datum.o","value":"#777777"},"value":"#000000"}}},
{"data":{"name":"bars"},
 "mark":{"type":"bar","size":2,"clip":true},
 "encoding":{"x":{"field":"i","type":"quantitative","scale":{"domain":[-1.125,323.44],"nice":false,"zero":false},"axis":{"title":null,"grid":false}},
  "y":{"field":"o","type":"quantitative","scale":{"domain":[1.19298,1.24465],"nice":false,"zero":false},"axis":{"title":null,"grid":false}},
  "y2":{"field":"c"},
  "color":{"condition":{"test":"datum.c >= datum.o","value":"#999999"},"value":"#000000"}}},
{"data":{"values":[{"p":1.2440,"t":"127.2"},{"p":1.2250,"t":"161.8"},{"p":1.2039,"t":"200.0"}]},
 "mark":{"type":"text","align":"right","baseline":"bottom","dy":-1,"fontSize":6,"color":"#6a6aff"},
 "encoding":{"x":{"datum":323.06,"type":"quantitative","scale":{"domain":[-1.125,323.44],"nice":false,"zero":false},"axis":{"title":null,"grid":false}},
  "y":{"field":"p","type":"quantitative","scale":{"domain":[1.19298,1.24465],"nice":false,"zero":false},"axis":{"title":null,"grid":false}},
  "text":{"field":"t"}}},
{"data":{"name":"tags"},
 "mark":{"type":"bar","size":8,"orient":"horizontal"},
 "encoding":{"x":{"datum":323.63,"type":"quantitative","scale":{"domain":[-1.125,323.44],"nice":false,"zero":false},"axis":{"title":null,"grid":false}},
  "x2":{"datum":332.63},
  "y":{"field":"p","type":"quantitative","scale":{"domain":[1.19298,1.24465],"nice":false,"zero":false},"axis":{"title":null,"grid":false}},
  "color":{"condition":{"test":"datum.p == 1.238","value":"#000000"},"value":"#0000ee"}}},
{"data":{"name":"tags"},
 "mark":{"type":"text","align":"left","baseline":"middle","fontSize":6,"color":"#ffffff"},
 "encoding":{"x":{"datum":324.83,"type":"quantitative","scale":{"domain":[-1.125,323.44],"nice":false,"zero":false},"axis":{"title":null,"grid":false}},
  "y":{"field":"p","type":"quantitative","scale":{"domain":[1.19298,1.24465],"nice":false,"zero":false},"axis":{"title":null,"grid":false}},
  "text":{"field":"t"}}},
{"data":{"values":[{"t":"2382 1.2378 1.2380"}]},
 "mark":{"type":"text","align":"left","baseline":"middle","fontSize":6,"color":"#000"},
 "encoding":{"x":{"datum":-1.0,"type":"quantitative","scale":{"domain":[-1.125,323.44],"nice":false,"zero":false},"axis":{"title":null,"grid":false}},
  "y":{"datum":1.24427,"type":"quantitative","scale":{"domain":[1.19298,1.24465],"nice":false,"zero":false},"axis":{"title":null,"grid":false}},
  "text":{"field":"t"}}}
]},
{"layer":[
{"data":{"name":"bars"},
 "mark":{"type":"bar","size":2,"clip":true},
 "encoding":{"x":{"field":"i","type":"quantitative","scale":{"domain":[-1.125,323.44],"nice":false,"zero":false},"axis":{"title":null,"grid":false}},
  "y":{"field":"v","type":"quantitative","scale":{"domain":[0,11638],"nice":false,"zero":false},"axis":null},
  "color":{"condition":[{"test":"datum.vd == 'g'","value":"#008000"},{"test":"datum.vd == 'p'","value":"#ffa0a0"}],"value":"#ff0000"}}},
{"data":{"values":[{"t":"1877"}]},
 "mark":{"type":"text","align":"left","baseline":"middle","fontSize":6,"color":"#000"},
 "encoding":{"x":{"datum":324.83,"type":"quantitative","scale":{"domain":[-1.125,323.44],"nice":false,"zero":false},"axis":{"title":null,"grid":false}},
  "y":{"datum":1877,"type":"quantitative","scale":{"domain":[0,11638],"nice":false,"zero":false},"axis":null},
  "text":{"field":"t"}}},
{"data":{"values":[{"t":"0"}]},
 "mark":{"type":"text","align":"left","baseline":"bottom","dy":-1,"fontSize":6,"color":"#000"},
 "encoding":{"x":{"datum":324.83,"type":"quantitative","scale":{"domain":[-1.125,323.44],"nice":false,"zero":false},"axis":{"title":null,"grid":false}},
  "y":{"datum":0,"type":"quantitative","scale":{"domain":[0,11638],"nice":false,"zero":false},"axis":null},
  "text":{"field":"t"}}}
]}
],
"resolve":{"scale":{"y":"independent"}}
}
